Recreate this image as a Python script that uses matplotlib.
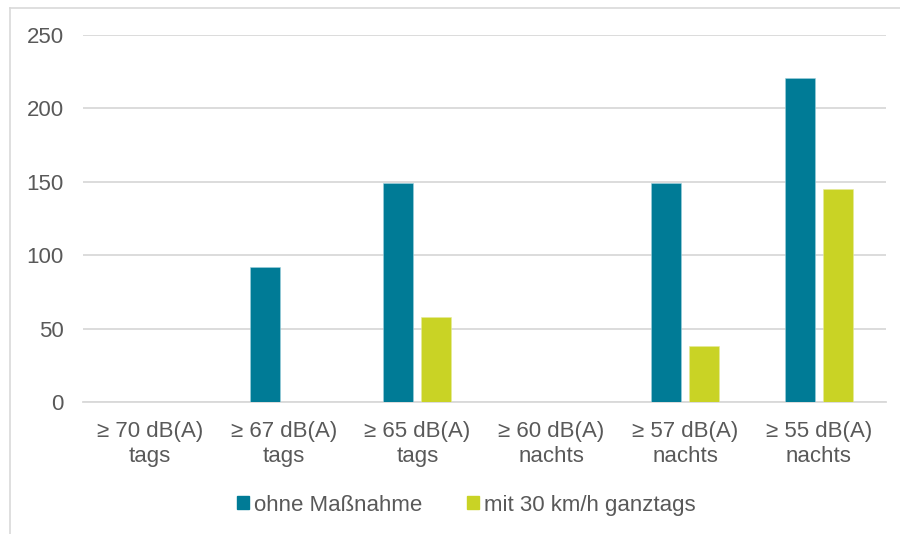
import numpy as np
import matplotlib
matplotlib.use('Agg')
import matplotlib.pyplot as plt
from matplotlib.lines import Line2D
from matplotlib.patches import Patch

plt.rcParams['font.family'] = ['Liberation Sans', 'DejaVu Sans']

# data
categories = ['≥ 70 dB(A)\ntags', '≥ 67 dB(A)\ntags', '≥ 65 dB(A)\ntags',
              '≥ 60 dB(A)\nnachts', '≥ 57 dB(A)\nnachts', '≥ 55 dB(A)\nnachts']
ohne = [0, 92, 149, 0, 149, 221]
mit30 = [0, 0, 58, 0, 38, 145]
series_names = ['ohne Maßnahme', 'mit 30 km/h ganztags']
yticks = [0, 50, 100, 150, 200, 250]

blue = '#007B96'
green = '#C9D325'
grid_col = '#D9D9D9'
text_col = '#595959'

fig = plt.figure(figsize=(9, 5.34), dpi=100)
ax = fig.add_axes([0.0922, 0.2472, 0.892, 0.6873])

# chart border: only top and left edges are inside the picture
bx, by = 10/900, 1 - 7.5/534
fig.add_artist(Line2D([bx, 1.0], [by, by], transform=fig.transFigure, color=grid_col, lw=1.2))
fig.add_artist(Line2D([bx, bx], [0, by], transform=fig.transFigure, color=grid_col, lw=1.2))

x = np.arange(len(categories))
w = 0.224
off = 0.142
ax.bar(x - off, ohne, width=w, color=blue, edgecolor='#9fd0dc', linewidth=0.4, zorder=3)
ax.bar(x + off, mit30, width=w, color=green, edgecolor='#e5ea9a', linewidth=0.4, zorder=3)

ax.set_xlim(-0.5, len(categories) - 0.5)
ax.set_ylim(0, 250)
ax.set_yticks(yticks)
ax.yaxis.grid(True, color=grid_col, linewidth=1.3)
ax.set_axisbelow(True)
for s in ['top', 'right', 'left']:
    ax.spines[s].set_visible(False)
ax.spines['bottom'].set_color(grid_col)
ax.spines['bottom'].set_linewidth(1.3)

ax.set_xticks(x)
ax.set_xticklabels(categories, linespacing=1.22)
ax.tick_params(axis='both', length=0, labelsize=16, labelcolor=text_col)
ax.tick_params(axis='y', pad=14)
ax.tick_params(axis='x', pad=14)

handles = [Patch(color=blue), Patch(color=green)]
fig.legend(handles, series_names, loc='center', bbox_to_anchor=(0.518, 0.054),
           ncol=2, frameon=False, fontsize=16, labelcolor=text_col,
           handlelength=0.55, handleheight=0.55, handletextpad=0.22, columnspacing=2.0)

fig.savefig('out.png', dpi=100)
